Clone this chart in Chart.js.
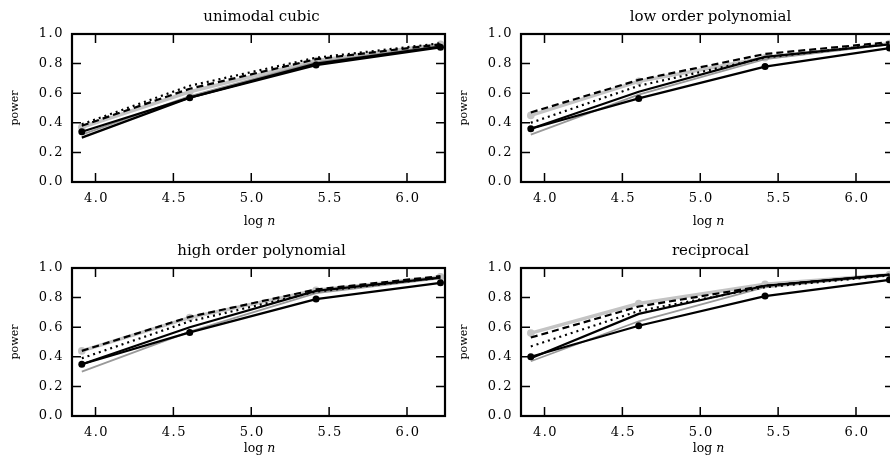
<!DOCTYPE html>
<html>
<head>
<meta charset="utf-8">
<script src="https://cdn.jsdelivr.net/npm/chart.js@4/dist/chart.umd.min.js"></script>
<style>
html, body { margin: 0; padding: 0; background: #fff; overflow: hidden; }
#fig { position: relative; width: 890px; height: 469px; overflow: hidden; background: #fff; }
#fig canvas { position: absolute; }
</style>
</head>
<body>
<div id="fig">
    <canvas id="c-cubic" width="449" height="235" style="left:0;top:0"></canvas>
    <canvas id="c-low"   width="449" height="235" style="left:449px;top:0"></canvas>
    <canvas id="c-high"  width="449" height="235" style="left:0;top:234px"></canvas>
    <canvas id="c-recip" width="449" height="235" style="left:449px;top:234px"></canvas>
</div>
<script>
// ───── DATA ─────
const LOG_N   = [3.912, 4.605, 5.416, 6.215];      // log 50, 100, 225, 500
const X_TICKS = [4.0, 4.5, 5.0, 5.5, 6.0];
const Y_TICKS = [0.0, 0.2, 0.4, 0.6, 0.8, 1.0];

// unimodal cubic
const cubicDots   = [0.34, 0.57, 0.79, 0.91];
const cubicSolid  = [0.30, 0.57, 0.80, 0.915];
const cubicDash   = [0.38, 0.63, 0.83, 0.93];
const cubicDot    = [0.39, 0.65, 0.84, 0.937];
const cubicGray   = [0.37, 0.61, 0.82, 0.93];
const cubicThin   = [0.32, 0.58, 0.81, 0.92];

// low order polynomial
const lowDots     = [0.36, 0.565, 0.78, 0.905];
const lowSolid    = [0.36, 0.61, 0.845, 0.93];
const lowDash     = [0.47, 0.69, 0.865, 0.945];
const lowDot      = [0.40, 0.65, 0.84, 0.935];
const lowGray     = [0.45, 0.68, 0.84, 0.935];
const lowThin     = [0.32, 0.59, 0.83, 0.93];

// high order polynomial
const highDots    = [0.35, 0.565, 0.79, 0.90];
const highSolid   = [0.35, 0.60, 0.845, 0.935];
const highDash    = [0.44, 0.67, 0.855, 0.945];
const highDot     = [0.39, 0.64, 0.84, 0.935];
const highGray    = [0.44, 0.665, 0.85, 0.94];
const highThin    = [0.30, 0.57, 0.83, 0.93];

// reciprocal
const recipDots   = [0.40, 0.61, 0.81, 0.92];
const recipSolid  = [0.39, 0.69, 0.88, 0.955];
const recipDash   = [0.53, 0.74, 0.88, 0.955];
const recipDot    = [0.47, 0.71, 0.87, 0.95];
const recipGray   = [0.56, 0.76, 0.89, 0.955];
const recipThin   = [0.37, 0.64, 0.87, 0.95];

const PANELS = [
    { id: "c-cubic", title: "unimodal cubic",        s: [cubicDots, cubicSolid, cubicDash, cubicDot, cubicThin, cubicGray], lblY: 40 },
    { id: "c-low",   title: "low order polynomial",  s: [lowDots,   lowSolid,   lowDash,   lowDot,   lowThin,   lowGray],   lblY: 40 },
    { id: "c-high",  title: "high order polynomial", s: [highDots,  highSolid,  highDash,  highDot,  highThin,  highGray],  lblY: 33 },
    { id: "c-recip", title: "reciprocal",            s: [recipDots, recipSolid, recipDash, recipDot, recipThin, recipGray], lblY: 33 },
];

// estilos das 6 séries (mesma ordem de PANELS[].s) — índice 0 fica por cima
const STYLES = [
    { color: "#000",    width: 2.2, dash: [],     r: 3.5 },
    { color: "#000",    width: 2.2, dash: [],     r: 0   },
    { color: "#000",    width: 2.2, dash: [7, 4], r: 0   },
    { color: "#000",    width: 2.2, dash: [2, 4], r: 0   },
    { color: "#999",    width: 1.8, dash: [],     r: 0   },
    { color: "#c4c4c4", width: 3.5, dash: [],     r: 3.8 },
];

const SERIF = "'DejaVu Serif', 'Liberation Serif', serif";
const TICK  = 9;

// moldura, ticks internos, rótulos e títulos
const frameDeco = {
    id: "frameDeco",
    afterDraw(chart, args, opts) {
        const { ctx, chartArea: a, scales: { x, y } } = chart;
        ctx.save();
        ctx.strokeStyle = "#000";
        ctx.lineWidth = 1.5;
        ctx.beginPath();
        X_TICKS.forEach(v => {
            const px = x.getPixelForValue(v);
            ctx.moveTo(px, a.bottom); ctx.lineTo(px, a.bottom - TICK);
            ctx.moveTo(px, a.top);    ctx.lineTo(px, a.top + TICK);
        });
        Y_TICKS.forEach(v => {
            const py = y.getPixelForValue(v);
            ctx.moveTo(a.left, py);  ctx.lineTo(a.left + TICK, py);
            ctx.moveTo(a.right, py); ctx.lineTo(a.right - TICK, py);
        });
        ctx.stroke();
        ctx.lineWidth = 2.2;
        ctx.strokeRect(a.left, a.top, a.right - a.left, a.bottom - a.top);

        ctx.fillStyle = "#000";
        ctx.textBaseline = "middle";
        ctx.font = "13px " + SERIF;
        ctx.letterSpacing = "1.5px";
        ctx.textAlign = "center";
        X_TICKS.forEach(v => ctx.fillText(v.toFixed(1), x.getPixelForValue(v) + 1, a.bottom + 17));
        ctx.textAlign = "right";
        Y_TICKS.forEach(v => ctx.fillText(v.toFixed(1), a.left - 8, y.getPixelForValue(v)));
        ctx.letterSpacing = "0px";

        // título
        ctx.font = "15px " + SERIF;
        ctx.textAlign = "center";
        ctx.fillText(opts.title, (a.left + a.right) / 2 + 3, 17);

        // log n
        ctx.font = "12.5px " + SERIF;
        const w1 = ctx.measureText("log ").width;
        ctx.font = "italic 12.5px " + SERIF;
        const w2 = ctx.measureText("n").width;
        const cx = (a.left + a.right) / 2 + 1 - (w1 + w2) / 2;
        ctx.textAlign = "left";
        ctx.font = "12.5px " + SERIF;
        ctx.fillText("log ", cx, a.bottom + opts.lblY);
        ctx.font = "italic 12.5px " + SERIF;
        ctx.fillText("n", cx + w1, a.bottom + opts.lblY);

        // power
        ctx.font = "11px " + SERIF;
        ctx.translate(15, (a.top + a.bottom) / 2);
        ctx.rotate(-Math.PI / 2);
        ctx.textAlign = "center";
        ctx.fillText("power", 0, 0);
        ctx.restore();
    }
};

PANELS.forEach(p => {
    new Chart(document.getElementById(p.id).getContext("2d"), {
        type: "line",
        data: {
            datasets: p.s.map((vals, i) => ({
                data: vals.map((v, k) => ({ x: LOG_N[k], y: v })),
                borderColor: STYLES[i].color,
                backgroundColor: STYLES[i].color,
                borderWidth: STYLES[i].width,
                borderDash: STYLES[i].dash,
                borderCapStyle: "butt",
                pointRadius: STYLES[i].r,
                pointBorderWidth: 0,
                pointBackgroundColor: STYLES[i].color,
                tension: 0,
                clip: 4,
            }))
        },
        options: {
            responsive: false,
            animation: false,
            layout: { padding: { top: 34, left: 72, bottom: 53, right: 2 } },
            plugins: {
                legend: { display: false },
                tooltip: { enabled: false },
                frameDeco: { title: p.title, lblY: p.lblY },
            },
            scales: {
                x: { type: "linear", display: false, min: 3.849, max: 6.244 },
                y: { type: "linear", display: false, min: 0, max: 1 },
            }
        },
        plugins: [frameDeco]
    });
});
</script>
</body>
</html>
